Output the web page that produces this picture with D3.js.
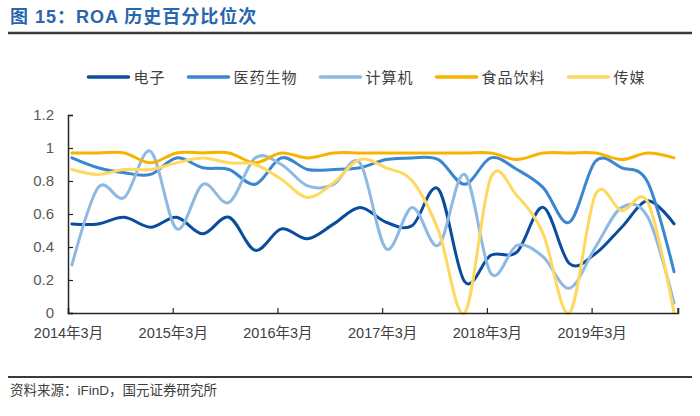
<!DOCTYPE html>
<html>
<head>
<meta charset="utf-8">
<script src="https://cdn.jsdelivr.net/npm/d3@7/dist/d3.min.js"></script>
<style>
  html, body { margin: 0; padding: 0; background: #fff; }
  svg { display: block; }
</style>
</head>
<body>
<svg id="chart" width="700" height="416"></svg>
<script>
// ---- data (quarterly, 2014Q1 .. 2019Q4) ----
const quarters = ["2014Q1","2014Q2","2014Q3","2014Q4","2015Q1","2015Q2","2015Q3","2015Q4",
  "2016Q1","2016Q2","2016Q3","2016Q4","2017Q1","2017Q2","2017Q3","2017Q4",
  "2018Q1","2018Q2","2018Q3","2018Q4","2019Q1","2019Q2","2019Q3","2019Q4"];
const seriesNames = ["电子", "医药生物", "计算机", "食品饮料", "传媒"];
const dianzi   = [0.54,0.54,0.58,0.52,0.58,0.48,0.58,0.38,0.51,0.45,0.54,0.64,0.55,0.53,0.75,0.19,0.35,0.37,0.64,0.30,0.36,0.52,0.68,0.54];
const yiyao    = [0.94,0.88,0.85,0.84,0.94,0.88,0.87,0.78,0.94,0.87,0.87,0.88,0.93,0.94,0.93,0.78,0.94,0.87,0.76,0.55,0.92,0.88,0.79,0.25];
const jisuanji = [0.29,0.76,0.70,0.98,0.51,0.78,0.67,0.94,0.90,0.77,0.78,0.91,0.39,0.64,0.41,0.84,0.24,0.41,0.34,0.15,0.40,0.64,0.58,0.06];
const shipin   = [0.97,0.97,0.97,0.91,0.97,0.97,0.97,0.91,0.97,0.94,0.97,0.97,0.97,0.97,0.97,0.97,0.97,0.93,0.97,0.97,0.97,0.93,0.97,0.94];
const chuanmei = [0.87,0.84,0.87,0.87,0.91,0.94,0.91,0.90,0.81,0.70,0.79,0.93,0.88,0.80,0.50,0.00,0.82,0.71,0.48,0.00,0.72,0.62,0.67,0.00];
const yTicks = [0, 0.2, 0.4, 0.6, 0.8, 1, 1.2];
const xTickIdx = [0, 4, 8, 12, 16, 20];
const xTickLabels = ["2014年3月","2015年3月","2016年3月","2017年3月","2018年3月","2019年3月"];
const colors = ["#0C4C9E", "#3A86CF", "#8DB9E3", "#F7B300", "#FFD860"];
const titleText = "图 15：ROA 历史百分比位次";
const sourceText = "资料来源：iFinD，国元证券研究所";

const allSeries = [dianzi, yiyao, jisuanji, shipin, chuanmei];

const svg = d3.select("#chart");
const W = 700;
const margin = { left: 68, right: 22, top: 115, bottom: 103 };
const plotBottom = 416 - margin.bottom;

const x = d3.scaleLinear().domain([-0.15, quarters.length - 1 + 0.15]).range([margin.left, W - margin.right]);
const y = d3.scaleLinear().domain([0, 1.2]).range([plotBottom, margin.top]);

const cjk = "'Liberation Sans', Arial, 'Noto Sans CJK SC', sans-serif";

// title
svg.append("text")
  .attr("x", 10).attr("y", 23)
  .attr("font-family", cjk)
  .attr("font-weight", "bold")
  .attr("font-size", 18)
  .attr("letter-spacing", 1)
  .attr("fill", "#2A66AE")
  .text(titleText);
svg.append("line")
  .attr("x1", 8).attr("x2", 692).attr("y1", 33).attr("y2", 33)
  .attr("stroke", "#3a3a3a").attr("stroke-width", 2.5);

// lines
const line = d3.line()
  .x((d, i) => x(i))
  .y(d => y(d))
  .curve(d3.curveCardinal.tension(0));

const g = svg.append("g");
allSeries.forEach((s, k) => {
  g.append("path")
    .datum(s)
    .attr("fill", "none")
    .attr("stroke", colors[k])
    .attr("stroke-width", 3)
    .attr("stroke-linejoin", "round")
    .attr("stroke-linecap", "round")
    .attr("d", line);
});

// y axis
const yAxis = d3.axisLeft(y).tickValues(yTicks).tickSize(-5).tickPadding(14).tickFormat(d => String(d));
const yG = svg.append("g").attr("transform", `translate(${margin.left},0)`).call(yAxis);
yG.select(".domain").attr("stroke", "#262626").attr("stroke-width", 1.5);
yG.selectAll(".tick line").attr("stroke", "#262626").attr("stroke-width", 1.2);
yG.selectAll("text").attr("font-family", "'Liberation Sans', Arial, sans-serif").attr("font-size", 15).attr("fill", "#595959");

// x axis
const xAxis = d3.axisBottom(x)
  .tickValues(xTickIdx.map(i => i - 0.15))
  .tickSize(-5)
  .tickPadding(15)
  .tickFormat((d, i) => xTickLabels[i]);
const xG = svg.append("g").attr("transform", `translate(0,${plotBottom})`).call(xAxis);
xG.select(".domain").attr("stroke", "#262626").attr("stroke-width", 1.5);
xG.selectAll(".tick line").attr("stroke", "#262626").attr("stroke-width", 1.2);
xG.selectAll("text").attr("font-family", cjk).attr("font-size", 14.5).attr("fill", "#404040");
// end tick
xG.append("line").attr("x1", x(quarters.length - 1 + 0.15)).attr("x2", x(quarters.length - 1 + 0.15))
  .attr("y1", 0).attr("y2", -5).attr("stroke", "#262626").attr("stroke-width", 1.2);

// legend
const leg = svg.append("g");
let cx = 0;
seriesNames.forEach((name, k) => {
  const it = leg.append("g").attr("transform", `translate(${cx},0)`);
  it.append("line").attr("x1", 0).attr("x2", 40).attr("y1", 0).attr("y2", 0)
    .attr("stroke", colors[k]).attr("stroke-width", 3.5).attr("stroke-linecap", "round");
  const t = it.append("text").attr("x", 45).attr("y", 5.5)
    .attr("font-family", "'Noto Sans CJK SC', sans-serif")
    .attr("font-size", 15).attr("letter-spacing", 1).attr("fill", "#404040").text(name);
  cx += 45 + t.node().getComputedTextLength() + 23;
});
const legW = cx - 23;
leg.attr("transform", `translate(${367 - legW / 2},77)`);

// source
svg.append("line")
  .attr("x1", 8).attr("x2", 692).attr("y1", 377).attr("y2", 377)
  .attr("stroke", "#3a3a3a").attr("stroke-width", 2);
svg.append("text")
  .attr("x", 10).attr("y", 395)
  .attr("font-family", cjk)
  .attr("font-size", 13.5)
  .attr("fill", "#404040")
  .text(sourceText);
</script>
</body>
</html>
